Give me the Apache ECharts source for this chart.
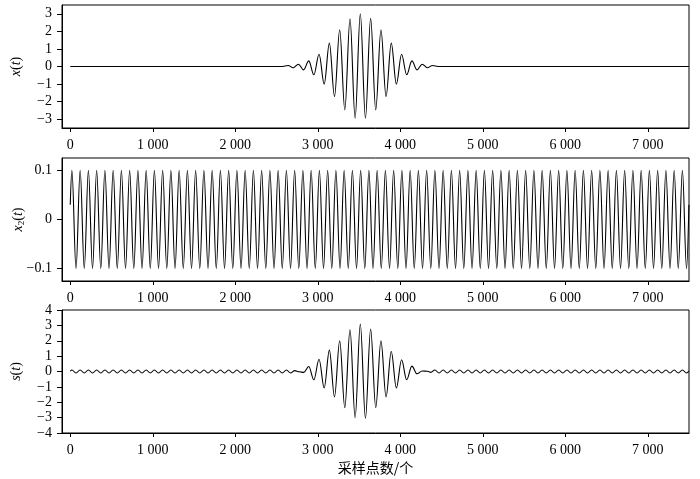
<!DOCTYPE html>
<html>
<head>
<meta charset="utf-8">
<script src="https://cdn.jsdelivr.net/npm/echarts@6/dist/echarts.min.js"></script>
<style>
  html, body { margin: 0; padding: 0; background: #fff; }
  #chart { width: 700px; height: 479px; }
</style>
</head>
<body>
<div id="chart"></div>
<script>
// tick values
const xTicks = [0, 1000, 2000, 3000, 4000, 5000, 6000, 7000]
const y1Ticks = [-3, -2, -1, 0, 1, 2, 3]
const y2Ticks = [-0.1, 0, 0.1]
const y3Ticks = [-4, -3, -2, -1, 0, 1, 2, 3, 4]

// x(t): flat line with a wave packet (extrema)
const xSignal = [
  [0, 0], [2560, 0],
  [2641, 0.06], [2703, -0.07], [2766, 0.13], [2828, -0.19], [2891, 0.32],
  [2953, -0.47], [3016, 0.70], [3078, -1.0], [3141, 1.33], [3203, -1.71],
  [3266, 2.09], [3328, -2.47], [3391, 2.72], [3453, -2.94], [3516, 3.0],
  [3578, -2.94], [3641, 2.74], [3703, -2.47], [3766, 2.09], [3828, -1.71],
  [3891, 1.33], [3953, -1.0], [4016, 0.70], [4078, -0.47], [4141, 0.32],
  [4203, -0.19], [4266, 0.13], [4328, -0.07], [4391, 0.06],
  [4470, 0], [7499, 0]
]

// x2(t): peaks and troughs of the 0.1 sinusoid (middle panel)
const x2Signal = [
  [0, 0.03],
  [20, 0.1], [70, -0.1], [120, 0.1], [170, -0.1], [220, 0.1], [270, -0.1], [320, 0.1], [370, -0.1], [420, 0.1], [470, -0.1],
  [520, 0.1], [570, -0.1], [620, 0.1], [670, -0.1], [720, 0.1], [770, -0.1], [820, 0.1], [870, -0.1], [920, 0.1], [970, -0.1],
  [1020, 0.1], [1070, -0.1], [1120, 0.1], [1170, -0.1], [1220, 0.1], [1270, -0.1], [1320, 0.1], [1370, -0.1], [1420, 0.1], [1470, -0.1],
  [1520, 0.1], [1570, -0.1], [1620, 0.1], [1670, -0.1], [1720, 0.1], [1770, -0.1], [1820, 0.1], [1870, -0.1], [1920, 0.1], [1970, -0.1],
  [2020, 0.1], [2070, -0.1], [2120, 0.1], [2170, -0.1], [2220, 0.1], [2270, -0.1], [2320, 0.1], [2370, -0.1], [2420, 0.1], [2470, -0.1],
  [2520, 0.1], [2570, -0.1], [2620, 0.1], [2670, -0.1], [2720, 0.1], [2770, -0.1], [2820, 0.1], [2870, -0.1], [2920, 0.1], [2970, -0.1],
  [3020, 0.1], [3070, -0.1], [3120, 0.1], [3170, -0.1], [3220, 0.1], [3270, -0.1], [3320, 0.1], [3370, -0.1], [3420, 0.1], [3470, -0.1],
  [3520, 0.1], [3570, -0.1], [3620, 0.1], [3670, -0.1], [3720, 0.1], [3770, -0.1], [3820, 0.1], [3870, -0.1], [3920, 0.1], [3970, -0.1],
  [4020, 0.1], [4070, -0.1], [4120, 0.1], [4170, -0.1], [4220, 0.1], [4270, -0.1], [4320, 0.1], [4370, -0.1], [4420, 0.1], [4470, -0.1],
  [4520, 0.1], [4570, -0.1], [4620, 0.1], [4670, -0.1], [4720, 0.1], [4770, -0.1], [4820, 0.1], [4870, -0.1], [4920, 0.1], [4970, -0.1],
  [5020, 0.1], [5070, -0.1], [5120, 0.1], [5170, -0.1], [5220, 0.1], [5270, -0.1], [5320, 0.1], [5370, -0.1], [5420, 0.1], [5470, -0.1],
  [5520, 0.1], [5570, -0.1], [5620, 0.1], [5670, -0.1], [5720, 0.1], [5770, -0.1], [5820, 0.1], [5870, -0.1], [5920, 0.1], [5970, -0.1],
  [6020, 0.1], [6070, -0.1], [6120, 0.1], [6170, -0.1], [6220, 0.1], [6270, -0.1], [6320, 0.1], [6370, -0.1], [6420, 0.1], [6470, -0.1],
  [6520, 0.1], [6570, -0.1], [6620, 0.1], [6670, -0.1], [6720, 0.1], [6770, -0.1], [6820, 0.1], [6870, -0.1], [6920, 0.1], [6970, -0.1],
  [7020, 0.1], [7070, -0.1], [7120, 0.1], [7170, -0.1], [7220, 0.1], [7270, -0.1], [7320, 0.1], [7370, -0.1], [7420, 0.1], [7470, -0.1],
  [7499, 0.03]
]

// s(t): ripple plus packet (bottom panel)
const sSignal = [
  [0, 0.03],
  [20, 0.1], [70, -0.1], [120, 0.1], [170, -0.1], [220, 0.1], [270, -0.1], [320, 0.1], [370, -0.1], [420, 0.1], [470, -0.1],
  [520, 0.1], [570, -0.1], [620, 0.1], [670, -0.1], [720, 0.1], [770, -0.1], [820, 0.1], [870, -0.1], [920, 0.1], [970, -0.1],
  [1020, 0.1], [1070, -0.1], [1120, 0.1], [1170, -0.1], [1220, 0.1], [1270, -0.1], [1320, 0.1], [1370, -0.1], [1420, 0.1], [1470, -0.1],
  [1520, 0.1], [1570, -0.1], [1620, 0.1], [1670, -0.1], [1720, 0.1], [1770, -0.1], [1820, 0.1], [1870, -0.1], [1920, 0.1], [1970, -0.1],
  [2020, 0.1], [2070, -0.1], [2120, 0.1], [2170, -0.1], [2220, 0.1], [2270, -0.1], [2320, 0.1], [2370, -0.1], [2420, 0.1], [2470, -0.1],
  [2520, 0.1], [2570, -0.1], [2620, 0.1], [2670, -0.1], [2720, 0.06], [2775, -0.02], [2830, -0.06],
  [2891, 0.33], [2953, -0.54], [3016, 0.80], [3078, -1.07], [3141, 1.39], [3203, -1.65],
  [3266, 2.0], [3328, -2.35], [3391, 2.72], [3453, -3.0], [3516, 3.09], [3578, -3.04],
  [3641, 2.76], [3703, -2.35], [3766, 2.0], [3828, -1.65], [3891, 1.30], [3953, -1.07],
  [4016, 0.76], [4078, -0.54], [4141, 0.35], [4203, -0.15], [4266, 0.03], [4330, 0.02], [4370, -0.06],
  [4420, 0.1], [4470, -0.1],
  [4520, 0.1], [4570, -0.1], [4620, 0.1], [4670, -0.1], [4720, 0.1], [4770, -0.1], [4820, 0.1], [4870, -0.1], [4920, 0.1], [4970, -0.1],
  [5020, 0.1], [5070, -0.1], [5120, 0.1], [5170, -0.1], [5220, 0.1], [5270, -0.1], [5320, 0.1], [5370, -0.1], [5420, 0.1], [5470, -0.1],
  [5520, 0.1], [5570, -0.1], [5620, 0.1], [5670, -0.1], [5720, 0.1], [5770, -0.1], [5820, 0.1], [5870, -0.1], [5920, 0.1], [5970, -0.1],
  [6020, 0.1], [6070, -0.1], [6120, 0.1], [6170, -0.1], [6220, 0.1], [6270, -0.1], [6320, 0.1], [6370, -0.1], [6420, 0.1], [6470, -0.1],
  [6520, 0.1], [6570, -0.1], [6620, 0.1], [6670, -0.1], [6720, 0.1], [6770, -0.1], [6820, 0.1], [6870, -0.1], [6920, 0.1], [6970, -0.1],
  [7020, 0.1], [7070, -0.1], [7120, 0.1], [7170, -0.1], [7220, 0.1], [7270, -0.1], [7320, 0.1], [7370, -0.1], [7420, 0.1], [7470, -0.1],
  [7499, 0.03]
]

const serif = 'Liberation Serif'
const minus = v => (v < 0 ? '\u2212' + String(-v) : String(v))
const thousands = v => (v === 0 ? '0' : v / 1000 + ' 000')

const nameRich = {
  i: { fontFamily: serif, fontStyle: 'italic', fontSize: 14, color: '#000', lineHeight: 16 },
  n: { fontFamily: serif, fontSize: 14, color: '#000', lineHeight: 16 },
  sub: { fontFamily: serif, fontSize: 9, color: '#000', lineHeight: 16, verticalAlign: 'bottom', padding: [5, 0, 0, 0] }
}

function makeX(idx, withName) {
  return {
    type: 'value',
    gridIndex: idx,
    min: -100,
    max: 7500,
    splitLine: { show: false },
    axisLine: { show: true, onZero: false, lineStyle: { color: '#000', width: 1 } },
    axisTick: { show: true, length: 4, customValues: xTicks, lineStyle: { color: '#000' } },
    axisLabel: {
      customValues: xTicks,
      formatter: thousands,
      margin: 10,
      fontFamily: serif,
      fontSize: 14,
      color: '#000'
    },
    name: withName ? '采样点数/个' : '',
    nameLocation: 'middle',
    nameGap: 28,
    nameMoveOverlap: false,
    nameTextStyle: { fontFamily: 'Noto Sans CJK SC', fontSize: 14, color: '#000' }
  }
}

function makeY(idx, min, max, ticks, name, gap) {
  return {
    type: 'value',
    gridIndex: idx,
    min: min,
    max: max,
    splitLine: { show: false },
    axisLine: { show: true, onZero: false, lineStyle: { color: '#000', width: 1 } },
    axisTick: { show: true, length: 5, customValues: ticks, lineStyle: { color: '#000' } },
    axisLabel: {
      customValues: ticks,
      formatter: minus,
      margin: 10,
      fontFamily: serif,
      fontSize: 14,
      color: '#000'
    },
    name: name,
    nameLocation: 'middle',
    nameRotate: 90,
    nameGap: gap,
    nameMoveOverlap: false,
    nameTextStyle: { rich: nameRich }
  }
}

function makeSeries(idx, data) {
  return {
    type: 'line',
    xAxisIndex: idx,
    yAxisIndex: idx,
    data: data,
    symbol: 'none',
    smooth: 0.36,
    smoothMonotone: 'x',
    lineStyle: { color: '#000', width: 1.1 },
    silent: true
  }
}

function makeGrid(top) {
  return {
    left: 62, top: top, width: 627, height: 123,
    show: true, borderColor: '#000', borderWidth: 1,
    containLabel: false, outerBoundsMode: 'none'
  }
}

const chart = echarts.init(document.getElementById('chart'))
chart.setOption({
  animation: false,
  backgroundColor: '#fff',
  grid: [makeGrid(5), makeGrid(158), makeGrid(310)],
  xAxis: [makeX(0, false), makeX(1, false), makeX(2, true)],
  yAxis: [
    makeY(0, -3.5, 3.5, y1Ticks, '{i|x}{n|(}{i|t}{n|)}', 38),
    makeY(1, -0.125, 0.125, y2Ticks, '{i|x}{sub|2}{n|(}{i|t}{n|)}', 36),
    makeY(2, -4, 4, y3Ticks, '{i|s}{n|(}{i|t}{n|)}', 38)
  ],
  series: [makeSeries(0, xSignal), makeSeries(1, x2Signal), makeSeries(2, sSignal)]
})
</script>
</body>
</html>
